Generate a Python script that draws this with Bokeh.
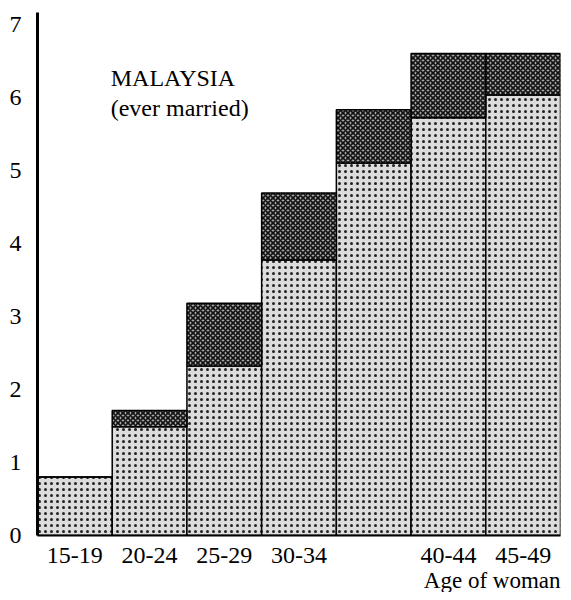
from bokeh.plotting import figure
from bokeh.models import Range1d, FixedTicker, Label, ColumnDataSource, Title
from bokeh.embed import file_html
from bokeh.resources import INLINE

# Data
ages = ["15-19", "20-24", "25-29", "30-34", "35-39", "40-44", "45-49"]
shown_labels = ["15-19", "20-24", "25-29", "30-34", "", "40-44", "45-49"]
lower_vals = [0.80, 1.49, 2.32, 3.77, 5.10, 5.72, 6.03]
total_vals = [0.80, 1.71, 3.18, 4.69, 5.83, 6.60, 6.60]
y_ticks = [0, 1, 2, 3, 4, 5, 6, 7]

FONT = "Liberation Serif"

xs = [i + 0.5 for i in range(len(ages))]
src = ColumnDataSource(dict(x=xs, lower=lower_vals, total=total_vals,
                            zero=[0] * len(ages)))

p = figure(width=563, height=592, output_backend="svg", toolbar_location=None,
           x_range=Range1d(0, len(ages)), y_range=Range1d(0, 7.16),
           min_border_left=37, min_border_right=3, min_border_top=12,
           min_border_bottom=55)
p.outline_line_color = None
p.grid.visible = False
p.background_fill_color = "white"
p.border_fill_color = "white"

p.vbar(x="x", width=1, bottom="zero", top="lower", source=src,
       fill_color="#dcdcdc", line_color="black", line_width=1.5,
       hatch_pattern="dot", hatch_color="#222222", hatch_scale=6, hatch_weight=2)
p.vbar(x="x", width=1, bottom="lower", top="total", source=src,
       fill_color="#a6a6a6", line_color="black", line_width=1.5,
       hatch_pattern="diagonal_cross", hatch_color="#111111", hatch_scale=5, hatch_weight=1.6)

# axes
p.yaxis.ticker = FixedTicker(ticks=y_ticks)
p.yaxis.axis_line_width = 3
p.yaxis.axis_line_color = "black"
p.yaxis.major_tick_line_color = None
p.yaxis.minor_tick_line_color = None
p.yaxis.major_label_standoff = 10
p.yaxis.major_label_text_font = FONT
p.yaxis.major_label_text_font_size = "24px"
p.yaxis.major_label_text_color = "black"

p.xaxis.ticker = FixedTicker(ticks=xs)
p.xaxis.major_label_overrides = {x: lab for x, lab in zip(xs, shown_labels)}
p.xaxis.axis_line_width = 2
p.xaxis.axis_line_color = "black"
p.xaxis.major_tick_line_color = None
p.xaxis.minor_tick_line_color = None
p.xaxis.major_label_standoff = 6
p.xaxis.major_label_text_font = FONT
p.xaxis.major_label_text_font_size = "24px"
p.xaxis.major_label_text_color = "black"

p.add_layout(Title(text="Age of woman", align="right", text_font=FONT,
                   text_font_size="23px", text_font_style="normal",
                   text_color="black", standoff=0, offset=0), "below")

p.add_layout(Label(x=0.98, y=6.26, text="MALAYSIA", text_align="left",
                   text_baseline="middle", text_font=FONT, text_font_size="24px",
                   text_color="black"))
p.add_layout(Label(x=0.98, y=5.85, text="(ever married)", text_align="left",
                   text_baseline="middle", text_font=FONT, text_font_size="24px",
                   text_color="black"))

open("out.html", "w").write(file_html(p, INLINE))
